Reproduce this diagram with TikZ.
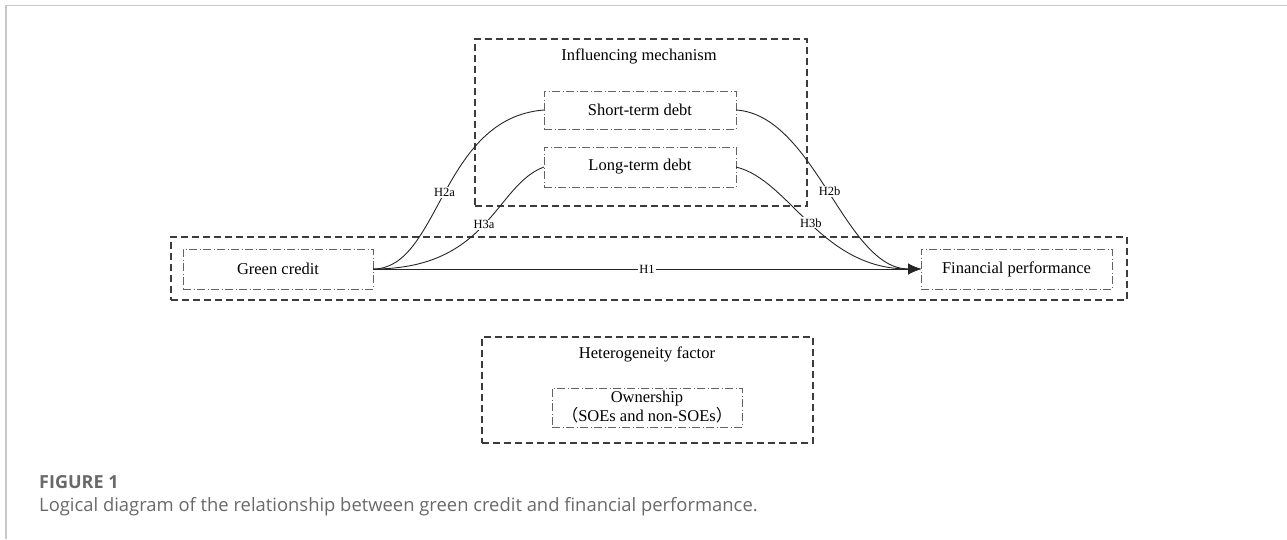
\documentclass[tikz,border=0pt]{standalone}
\usepackage{fontspec}
\setmainfont{Liberation Serif}
\newfontfamily\capfont{Open Sans}
\newfontfamily\cjk{Noto Sans CJK SC}
\usetikzlibrary{arrows.meta}
\definecolor{framegray}{RGB}{200,200,200}
\definecolor{capgray}{RGB}{105,105,105}
\definecolor{boxgray}{RGB}{60,60,60}
\tikzset{
  outerbox/.style={draw=boxgray, line width=1.1pt, dash pattern=on 7pt off 4pt, inner sep=0pt, outer sep=0pt},
  innerbox/.style={draw=boxgray!80, line width=0.9pt, dash pattern=on 8pt off 2.5pt on 1pt off 2.5pt, inner sep=0pt, outer sep=0pt, font=\fontsize{16.5}{19}\selectfont, align=center},
  titletext/.style={font=\fontsize{16.5}{19}\selectfont},
  hlabel/.style={fill=white, inner sep=1pt, font=\fontsize{12.5}{14}\selectfont},
  link/.style={line width=0.9pt, draw=black!85, -{Latex[length=13pt,width=11pt]}},
  linkplain/.style={line width=0.9pt, draw=black!85},
}
\begin{document}
\begin{tikzpicture}[x=1pt,y=-1pt]
\useasboundingbox (0,0) rectangle (1287,539);
% page frame
\draw[framegray, line width=1.6pt] (6,539) -- (6,5.5) -- (1287,5.5);
% outer boxes
\node[outerbox, minimum width=332pt, minimum height=167pt] (mech) at (641,122.5) {};
\node[titletext] (mechtitle) at (639,56) {Influencing mechanism};
\node[outerbox, minimum width=956pt, minimum height=63pt] (main) at (649,268.5) {};
\node[outerbox, minimum width=331pt, minimum height=106pt] (het) at (647.5,390) {};
\node[titletext] (hettitle) at (647,354) {Heterogeneity factor};
% inner boxes
\node[innerbox, minimum width=192pt, minimum height=38pt] (sd) at (640,110) {Short-term debt};
\node[innerbox, minimum width=192pt, minimum height=40pt] (ld) at (640,167) {Long-term debt};
\node[innerbox, minimum width=190pt, minimum height=40pt] (gc) at (278,269) {Green credit};
\node[innerbox, minimum width=191pt, minimum height=40pt] (fp) at (1016.5,269) {Financial performance};
\node[innerbox, minimum width=190pt, minimum height=39pt] (own) at (647,407.5) {Ownership\\{\cjk （}SOEs and non-SOEs{\cjk ）}};
% connectors
\draw[linkplain] (gc.east) .. controls (440,269) and (440,118) .. (sd.west)
  node[hlabel, pos=0.5] (h2a) {H2a};
\draw[linkplain] (gc.east) .. controls (490,269) and (495,185) .. (ld.west)
  node[hlabel, pos=0.5] (h3a) {H3a};
\draw[link] (sd.east) .. controls (815,115) and (845,269) .. (fp.west)
  node[hlabel, pos=0.5] (h2b) {H2b};
\draw[link] (ld.east) .. controls (790,180) and (820,269) .. (fp.west)
  node[hlabel, pos=0.5] (h3b) {H3b};
\draw[link] (gc.east) -- (fp.west) node[hlabel, pos=0.5] (h1) {H1};
% caption
\node[anchor=west, inner sep=0pt, text=capgray, font=\capfont\bfseries\fontsize{18}{21}\selectfont] (figlabel) at (39,482) {FIGURE 1};
\node[anchor=west, inner sep=0pt, text=capgray, font=\capfont\fontsize{18.4}{21}\selectfont] (caption) at (39,507) {Logical diagram of the relationship between green credit and financial performance.};
\end{tikzpicture}
\end{document}
